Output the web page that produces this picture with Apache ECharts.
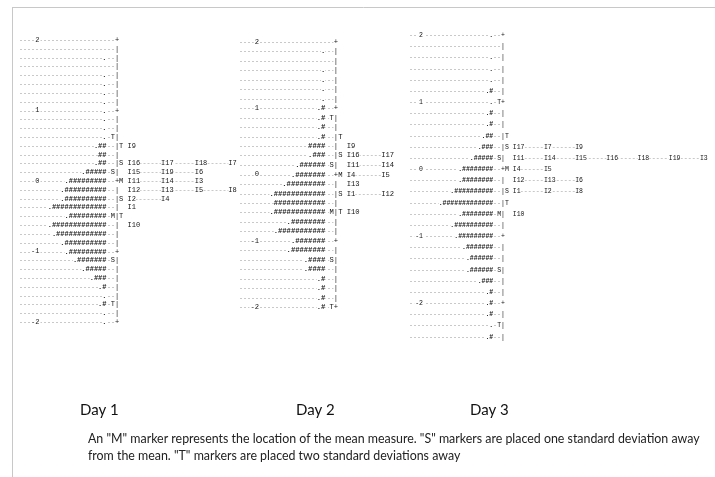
<!DOCTYPE html>
<html>
<head>
<meta charset="utf-8">
<script src="https://cdn.jsdelivr.net/npm/echarts@6/dist/echarts.min.js"></script>
<style>
  html, body { margin: 0; padding: 0; background: #fff; }
  #chart { width: 715px; height: 477px; }
</style>
</head>
<body>
<div id="chart"></div>
<script>
// Person–item (Wright) maps for three days on the logit measure scale.
// Persons column: each '#' is 2 persons, each '.' is 1 person.
// M = mean, S = one standard deviation, T = two standard deviations
// (person markers left of the ruler, item markers right of it).

// ---- Day 1 ----
const day1Measure = [2, 1.875, 1.75, 1.625, 1.5, 1.375, 1.25, 1.125, 1, 0.875, 0.75, 0.625,
  0.5, 0.375, 0.25, 0.125, 0, -0.125, -0.25, -0.375, -0.5, -0.625, -0.75, -0.875,
  -1, -1.125, -1.25, -1.375, -1.5, -1.625, -1.75, -1.875, -2];
const day1Persons = [0, 0, 1, 0, 1, 1, 1, 1, 1, 1, 1, 1,
  5, 4, 5, 11, 19, 21, 21, 27, 19, 27, 25, 21,
  19, 15, 11, 7, 3, 1, 3, 1, 1];
const day1PersonMarks = [[0.625, 'T'], [0.125, 'S'], [-0.5, 'M'], [-1.125, 'S'], [-1.75, 'T']];
const day1ItemMarks = [[0.5, 'T'], [0.25, 'S'], [0, 'M'], [-0.25, 'S'], [-0.5, 'T']];
const day1Items = [
  [0.5, ['I9']],
  [0.25, ['I16', 'I17', 'I18', 'I7']],
  [0.125, ['I15', 'I19', 'I6']],
  [0, ['I11', 'I14', 'I3']],
  [-0.125, ['I12', 'I13', 'I5', 'I8']],
  [-0.25, ['I2', 'I4']],
  [-0.375, ['I1']],
  [-0.625, ['I10']]
];

// ---- Day 2 ----
const day2Measure = [2, 1.86, 1.71, 1.57, 1.43, 1.29, 1.14, 1, 0.86, 0.71, 0.57, 0.43, 0.29, 0.14,
  0, -0.14, -0.29, -0.43, -0.57, -0.71, -0.86, -1, -1.14, -1.29, -1.43, -1.57, -1.71, -1.86, -2];
const day2Persons = [0, 1, 0, 1, 1, 1, 1, 3, 3, 3, 3, 8, 7, 13,
  15, 19, 25, 24, 25, 17, 23, 15, 17, 9, 9, 3, 3, 3, 3];
const day2PersonMarks = [[0.86, 'T'], [0.14, 'S'], [-0.57, 'M'], [-1.29, 'S'], [-2, 'T']];
const day2ItemMarks = [[0.57, 'T'], [0.29, 'S'], [0, 'M'], [-0.29, 'S'], [-0.57, 'T']];
const day2Items = [
  [0.43, ['I9']],
  [0.29, ['I16', 'I17']],
  [0.14, ['I11', 'I14']],
  [0, ['I4', 'I5']],
  [-0.14, ['I13']],
  [-0.29, ['I1', 'I12']],
  [-0.57, ['I10']]
];

// ---- Day 3 ----
const day3Measure = [2, 1.83, 1.67, 1.5, 1.33, 1.17, 1, 0.83, 0.67, 0.5, 0.33, 0.17,
  0, -0.17, -0.33, -0.5, -0.67, -0.83, -1, -1.17, -1.33, -1.5, -1.67, -1.83,
  -2, -2.17, -2.33, -2.5];
const day3Persons = [1, 0, 1, 1, 1, 3, 1, 3, 3, 5, 7, 11,
  17, 17, 21, 27, 17, 21, 19, 15, 13, 13, 7, 3,
  3, 3, 1, 3];
const day3PersonMarks = [[1, 'T'], [0.17, 'S'], [-0.67, 'M'], [-1.5, 'S'], [-2.33, 'T']];
const day3ItemMarks = [[0.5, 'T'], [0.33, 'S'], [0, 'M'], [-0.33, 'S'], [-0.5, 'T']];
const day3Items = [
  [0.33, ['I17', 'I7', 'I9']],
  [0.17, ['I11', 'I14', 'I15', 'I16', 'I18', 'I19', 'I3']],
  [0, ['I4', 'I5']],
  [-0.17, ['I12', 'I13', 'I6']],
  [-0.33, ['I1', 'I2', 'I8']],
  [-0.67, ['I10']]
];

// Tick labels on the measure axis
const measureTicks = [2, 1, 0, -1, -2];

const dayLabels = ['Day 1', 'Day 2', 'Day 3'];
const note = 'An "M" marker represents the location of the mean measure. "S" markers are placed one standard deviation away\n' +
  'from the mean. "T" markers are placed two standard deviations away';

// ---- layout of each panel (pixels / character columns) ----
const panels = [
  { measure: day1Measure, persons: day1Persons, pMarks: day1PersonMarks, iMarks: day1ItemMarks, items: day1Items,
    left: 20, top: 40, height: 282, width: 220, charW: 4.2, rulerCol: 23.1, labelRight: 20.5, min: -2, max: 2, interval: 1 },
  { measure: day2Measure, persons: day2Persons, pMarks: day2PersonMarks, iMarks: day2ItemMarks, items: day2Items,
    left: 240, top: 42, height: 265, width: 170, charW: 4.3, rulerCol: 22.33, labelRight: 20, min: -2, max: 2, interval: 1 },
  { measure: day3Measure, persons: day3Persons, pMarks: day3PersonMarks, iMarks: day3ItemMarks, items: day3Items,
    left: 410, top: 35, height: 301.5, width: 300, charW: 3.9, rulerCol: 23.85, labelRight: 14, min: -2.5, max: 2, interval: 0.5 }
];

const MONO = '"Liberation Mono", "DejaVu Sans Mono", monospace';
const INK = '#161616';
const LEADER = '#c9c9c9';

function lookup(pairs, v) {
  for (const p of pairs) if (Math.abs(p[0] - v) < 1e-6) return p[1];
  return null;
}

function personText(n) {
  return (n % 2 ? '.' : '') + '#'.repeat(Math.floor(n / 2));
}

function buildRows(p) {
  return p.measure.map((m, i) => ({
    measure: m,
    persons: personText(p.persons[i]),
    pMark: lookup(p.pMarks, m) || ' ',
    iMark: lookup(p.iMarks, m) || ' ',
    items: lookup(p.items, m) || [],
    whole: Math.abs(m - Math.round(m)) < 1e-6
  }));
}

function makeRender(p, rows) {
  return function (params, api) {
    const r = rows[params.dataIndex];
    const pt = api.coord([0, r.measure]);
    const x0 = pt[0];
    const y = Math.round(pt[1]) + 0.5;
    const cw = api.size([1, 0])[0];
    const xr = x0 + p.rulerCol * cw;
    const size = (cw / 0.6).toFixed(2) + 'px ';
    const font = size + MONO;
    const kids = [];
    // dotted leader up to the ruler
    const leftEnd = r.pMark !== ' ' ? xr - 1.6 * cw : xr - 0.6 * cw;
    kids.push({ type: 'line', shape: { x1: x0, y1: y, x2: leftEnd, y2: y },
      style: { stroke: LEADER, lineWidth: 1, lineDash: [2, 2] } });
    // dotted leader across the item columns
    if (r.items.length > 1) {
      const last = r.items[r.items.length - 1];
      const xs = xr + 2.5 * cw;
      const xe = xs + (8 * (r.items.length - 1) + last.length) * cw;
      kids.push({ type: 'line', shape: { x1: xs, y1: y, x2: xe, y2: y },
        style: { stroke: LEADER, lineWidth: 1, lineDash: [2, 2] } });
    }
    // persons
    if (r.persons) {
      kids.push({ type: 'text', style: { text: r.persons, x: xr - 2.5 * cw, y: y, font: 'bold ' + font, fill: INK,
        align: 'right', verticalAlign: 'middle', backgroundColor: '#fff' } });
    }
    // ruler with markers
    kids.push({ type: 'text', style: { text: r.pMark + (r.whole ? '+' : '|') + r.iMark, x: xr, y: y,
      font: font, fill: INK, align: 'center', verticalAlign: 'middle' } });
    // items
    r.items.forEach((it, k) => {
      kids.push({ type: 'text', style: { text: it, x: xr + (2.5 + 8 * k) * cw, y: y, font: font, fill: INK,
        align: 'left', verticalAlign: 'middle', backgroundColor: '#fff' } });
    });
    return { type: 'group', children: kids };
  };
}

const grids = [], xAxes = [], yAxes = [], series = [];
panels.forEach((p, i) => {
  const rows = buildRows(p);
  grids.push({ left: p.left, top: p.top, width: p.width, height: p.height });
  xAxes.push({ type: 'value', gridIndex: i, min: 0, max: p.width / p.charW, show: false });
  yAxes.push({
    type: 'value', gridIndex: i, min: p.min, max: p.max, interval: p.interval, z: 5,
    axisLine: { show: false }, axisTick: { show: false }, splitLine: { show: false },
    axisLabel: {
      margin: -p.labelRight, align: 'right', color: INK, fontFamily: MONO, fontSize: p.charW / 0.6,
      backgroundColor: '#fff', padding: [0, 1],
      formatter: v => (measureTicks.indexOf(v) >= 0 ? String(v) : '')
    }
  });
  series.push({
    type: 'custom', xAxisIndex: i, yAxisIndex: i, z: 1, silent: true, clip: false,
    renderItem: makeRender(p, rows),
    encode: { x: 0, y: 1 },
    data: rows.map(r => [0, r.measure])
  });
});

const dayLeft = [80, 296, 470];
const titles = dayLabels.map((t, i) => ({
  text: t, left: dayLeft[i], top: 403, padding: 0,
  textStyle: { fontFamily: 'Lato, "Open Sans", sans-serif', fontSize: 15, fontWeight: 'normal', color: '#111' }
}));
titles.push({
  text: note, left: 88, top: 430, padding: 0,
  textStyle: { fontFamily: 'Lato, "Open Sans", sans-serif', fontSize: 12.4, fontWeight: 'normal', color: '#222', lineHeight: 17 }
});

const chart = echarts.init(document.getElementById('chart'), null, { renderer: 'canvas' });
chart.setOption({
  backgroundColor: '#fff',
  animation: false,
  title: titles,
  grid: grids,
  xAxis: xAxes,
  yAxis: yAxes,
  series: series,
  graphic: [
    { type: 'line', shape: { x1: 12, y1: 7.5, x2: 715, y2: 7.5 }, style: { stroke: '#c8c8c8', lineWidth: 1 }, silent: true },
    { type: 'line', shape: { x1: 12.5, y1: 7, x2: 12.5, y2: 477 }, style: { stroke: '#c8c8c8', lineWidth: 1 }, silent: true }
  ]
});
</script>
</body>
</html>
